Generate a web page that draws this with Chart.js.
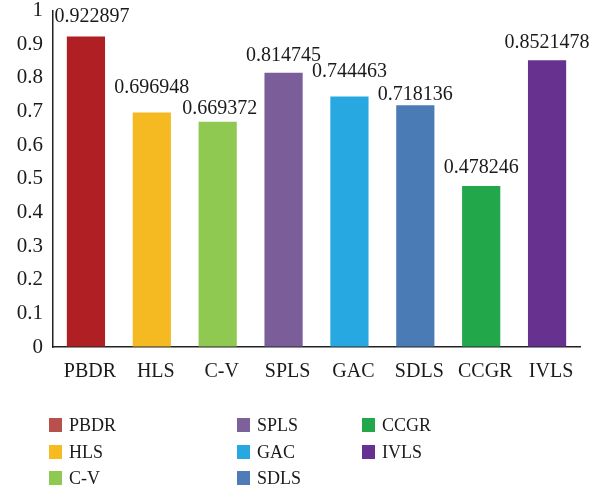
<!DOCTYPE html>
<html lang="en">
<head>
<meta charset="UTF-8">
<title>Bar chart</title>
<script src="https://cdn.jsdelivr.net/npm/chart.js"></script>
<style>
    body { margin: 0; background: #fff; }
    #wrap { width: 602px; height: 490px; }
</style>
</head>
<body>
<div id="wrap"><canvas id="myChart" width="602" height="490"></canvas></div>
<script>
    // dados do gráfico
    var metodos = ['PBDR', 'HLS', 'C-V', 'SPLS', 'GAC', 'SDLS', 'CCGR', 'IVLS'];
    var valores = [0.922897, 0.696948, 0.669372, 0.814745, 0.744463, 0.718136, 0.478246, 0.8521478];
    var coresBarra = ['#b01f24', '#f5b921', '#8fc952', '#7b5e99', '#27a8e0', '#4b7bb5', '#22a84b', '#67318f'];
    var coresLegenda = ['#b8504c', '#f6bb1f', '#8fc952', '#7c619b', '#27a8e0', '#4d7cb6', '#22a84b', '#673191'];
    var ticksY = [0, 0.1, 0.2, 0.3, 0.4, 0.5, 0.6, 0.7, 0.8, 0.9, 1];

    var fonte = '"Liberation Serif", "DejaVu Serif", serif';

    // rótulos com o valor em cima de cada barra
    var rotulos = {
        id: 'rotulos',
        afterDatasetsDraw: function (chart, args, opts) {
            var ctx = chart.ctx;
            var meta = chart.getDatasetMeta(0);
            ctx.save();
            ctx.font = '20px ' + fonte;
            ctx.fillStyle = '#1a1a1a';
            ctx.textAlign = 'center';
            ctx.textBaseline = 'alphabetic';
            meta.data.forEach(function (bar, i) {
                var d = opts.desloc[i];
                ctx.fillText(String(valores[i]), bar.x + d[0], bar.y - d[1]);
            });
            ctx.restore();
        }
    };

    // legenda em 3 colunas (ordem por coluna)
    var legenda = {
        id: 'legenda',
        afterDraw: function (chart) {
            var ctx = chart.ctx;
            var colX = [49, 237, 362];
            var linhaY = [425, 452, 478];
            ctx.save();
            ctx.font = '18px ' + fonte;
            ctx.textBaseline = 'middle';
            ctx.textAlign = 'left';
            metodos.forEach(function (nome, i) {
                var c = Math.floor(i / 3);
                var l = i % 3;
                ctx.fillStyle = coresLegenda[i];
                ctx.fillRect(colX[c], linhaY[l] - 7, 13, 14);
                ctx.fillStyle = '#1a1a1a';
                ctx.fillText(nome, colX[c] + 20, linhaY[l] + 1);
            });
            ctx.restore();
        }
    };

    new Chart(document.getElementById('myChart'), {
        type: 'bar',
        data: {
            labels: metodos,
            datasets: [{
                label: 'Resultados',
                data: valores,
                backgroundColor: coresBarra,
                borderWidth: 0,
                categoryPercentage: 1,
                barPercentage: 0.58
            }]
        },
        options: {
            responsive: false,
            animation: false,
            layout: { padding: { left: 0, right: 22, top: 0, bottom: 103 } },
            plugins: {
                legend: { display: false },
                tooltip: { enabled: false },
                rotulos: {
                    // deslocamento [x, y] de cada rótulo em relação ao topo da barra
                    desloc: [[6, 14], [0, 19], [2, 8], [0, 12], [0, 19], [0, 5], [0, 13], [0, 12]]
                }
            },
            scales: {
                x: {
                    grid: { display: false, drawTicks: false },
                    border: { color: '#222', width: 1.5 },
                    ticks: { color: '#1a1a1a', font: { family: fonte, size: 20 }, padding: 13, labelOffset: 4, maxRotation: 0 },
                    afterFit: function (s) { s.height = 40; }
                },
                y: {
                    min: 0,
                    max: 1,
                    grid: { display: true, drawOnChartArea: false, drawTicks: true, tickLength: 10, tickColor: 'rgba(0,0,0,0)' },
                    border: { color: '#222', width: 1.5 },
                    afterBuildTicks: function (s) { s.ticks = ticksY.map(function (v) { return { value: v }; }); },
                    ticks: {
                        color: '#1a1a1a',
                        font: { family: fonte, size: 21, lineHeight: 1 },
                        padding: 0,
                        callback: function (v) { return String(Math.round(v * 10) / 10); }
                    },
                    afterFit: function (s) { s.width = 53; }
                }
            }
        },
        plugins: [rotulos, legenda]
    });
</script>
</body>
</html>
